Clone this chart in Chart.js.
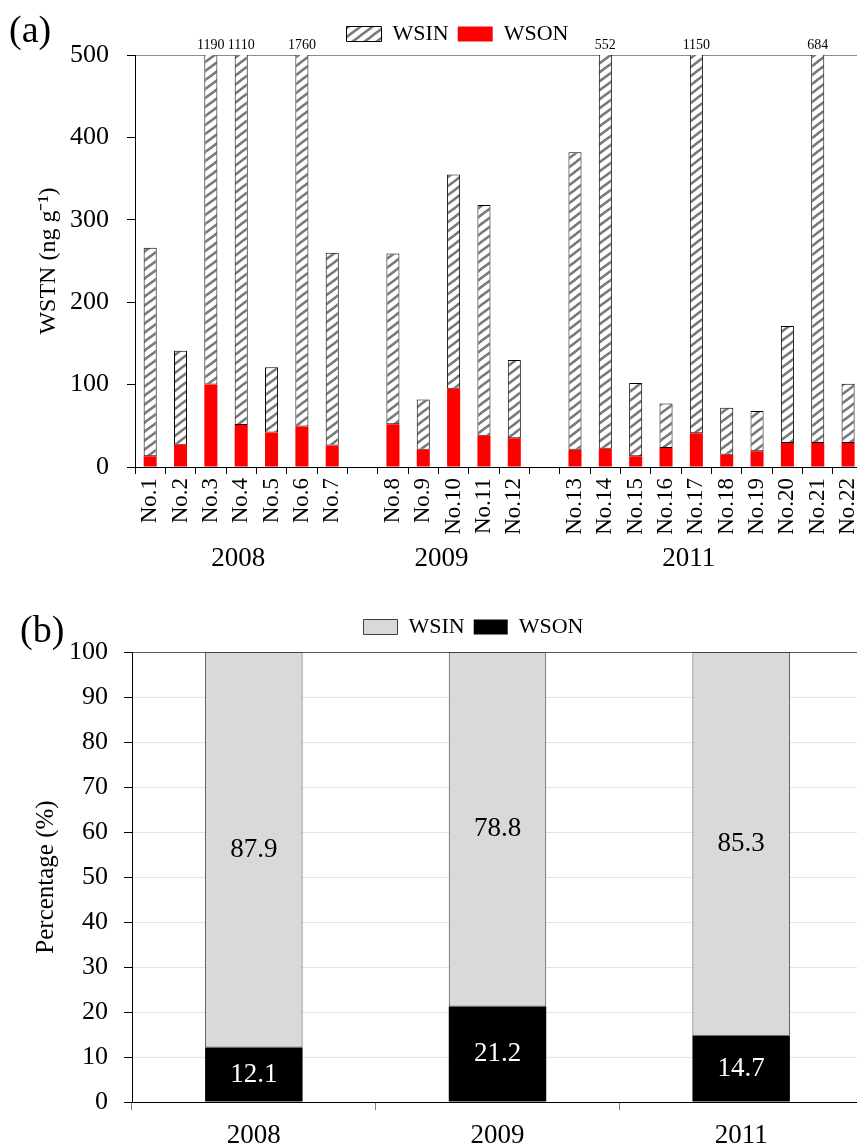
<!DOCTYPE html>
<html>
<head>
<meta charset="utf-8">
<script src="https://cdn.jsdelivr.net/npm/chart.js@4/dist/chart.umd.min.js"></script>
<style>
body { margin: 0; width: 857px; height: 1147px; overflow: hidden; background: #fff; position: relative; }
#chartA { position: absolute; left: 0; top: 0; }
#chartB { position: absolute; left: 0; top: 585px; }
</style>
</head>
<body>
<canvas id="chartA" width="880" height="590"></canvas>
<canvas id="chartB" width="880" height="575"></canvas>
<script>
// (a) samples, grouped by year; '' = gap between years
const sampleLabels = ['No.1', 'No.2', 'No.3', 'No.4', 'No.5', 'No.6', 'No.7', '',
	'No.8', 'No.9', 'No.10', 'No.11', 'No.12', '',
	'No.13', 'No.14', 'No.15', 'No.16', 'No.17', 'No.18', 'No.19', 'No.20', 'No.21', 'No.22']
const wsonValues = [13, 27, 100, 51, 42, 49, 26, null, 52, 21, 95, 38, 35, null,
	21, 22, 13, 23, 41, 15, 19, 29, 29, 29]
const wsinValues = [253, 114, 1090, 1059, 79, 1711, 234, null, 207, 61, 260, 280, 95, null,
	361, 530, 89, 54, 1109, 57, 49, 142, 655, 72]
const yearNames = ['2008', '2009', '2011']
const yMaxA = 500

// (b) share of each fraction per year (%)
const pctYears = ['2008', '2009', '2011']
const pctWson = [12.1, 21.2, 14.7]
const pctWsin = [87.9, 78.8, 85.3]

// where the year captions sit under panel (a), in category units
const yearAt = [2.9, 9.6, 17.75]

const serif = '"Liberation Serif", "Times New Roman", serif'
Chart.defaults.font.family = serif
Chart.defaults.color = '#000'

function makeHatch() { //diagonal grey stripes like the excel fill
	const c = document.createElement('canvas')
	c.width = 12; c.height = 9
	const g = c.getContext('2d')
	g.fillStyle = '#fff'
	g.fillRect(0, 0, 12, 9)
	g.strokeStyle = '#7a7a7a'
	g.lineWidth = 2.6
	g.beginPath()
	g.moveTo(-3, 11); g.lineTo(15, -2)
	g.moveTo(-3, 2); g.lineTo(3, -2)
	g.moveTo(9, 11); g.lineTo(15, 7)
	g.stroke()
	return g.createPattern(c, 'repeat')
}
const hatch = makeHatch()

// move the legend box and reserve room under it
const legendPlace = {
	id: 'legendPlace',
	beforeInit(chart, args, opts) {
		const lg = chart.legend
		const fit = lg.fit
		lg.fit = function () {
			fit.call(lg)
			lg.height = opts.height
		}
	},
	afterLayout(chart, args, opts) {
		const lg = chart.legend
		lg.left += opts.dx; lg.right += opts.dx
		lg.top += opts.dy; lg.bottom += opts.dy
	}
}

// panel letter in the corner
const panelTag = {
	id: 'panelTag',
	afterDraw(chart, args, opts) {
		const ctx = chart.ctx
		ctx.save()
		ctx.font = `38px ${serif}`
		ctx.fillStyle = '#000'
		ctx.textBaseline = 'alphabetic'
		ctx.fillText(opts.text, opts.x, opts.y)
		ctx.restore()
	}
}

// totals of bars cut at the top + year captions
const overflowLabels = {
	id: 'overflowLabels',
	afterDatasetsDraw(chart) {
		const ctx = chart.ctx
		const top = chart.chartArea.top
		const meta = chart.getDatasetMeta(1)
		ctx.save()
		ctx.font = `14px ${serif}`
		ctx.fillStyle = '#000'
		ctx.textAlign = 'center'
		ctx.textBaseline = 'bottom'
		meta.data.forEach((bar, i) => {
			const total = (wsonValues[i] || 0) + (wsinValues[i] || 0)
			if (total > yMaxA) ctx.fillText(String(total), bar.x, top - 3)
		})
		const xs = chart.scales.x
		ctx.font = `27px ${serif}`
		ctx.textBaseline = 'middle'
		yearNames.forEach((y, i) => ctx.fillText(y, xs.getPixelForValue(yearAt[i]), 559))
		ctx.restore()
	}
}

// percentages in the middle of each segment
const segmentLabels = {
	id: 'segmentLabels',
	afterDatasetsDraw(chart) {
		const ctx = chart.ctx
		ctx.save()
		ctx.font = `27px ${serif}`
		ctx.textAlign = 'center'
		ctx.textBaseline = 'middle'
		chart.data.datasets.forEach((ds, d) => {
			ctx.fillStyle = d === 0 ? '#fff' : '#000'
			chart.getDatasetMeta(d).data.forEach((bar, i) => {
				ctx.fillText(ds.data[i].toFixed(1), bar.x, (bar.y + bar.base) / 2)
			})
		})
		ctx.restore()
	}
}

new Chart(document.getElementById('chartA'), {
	type: 'bar',
	data: {
		labels: sampleLabels,
		datasets: [
			{ label: 'WSON', data: wsonValues, backgroundColor: '#ff0000', borderWidth: 0 },
			{ label: 'WSIN', data: wsinValues, backgroundColor: hatch, borderColor: '#000', borderWidth: 1, borderSkipped: false }
		]
	},
	options: {
		responsive: false,
		animation: false,
		layout: { padding: { left: 0, right: 15, top: 0, bottom: 0 } },
		datasets: { bar: { barPercentage: 0.43, categoryPercentage: 1 } },
		scales: {
			x: {
				stacked: true,
				border: { color: '#000', width: 1 },
				grid: { drawOnChartArea: false, tickLength: 7, tickColor: '#000' },
				ticks: { autoSkip: false, minRotation: 90, maxRotation: 90, padding: 4, font: { size: 23 } },
				afterFit(scale) { scale.height = 590 - 467 }
			},
			y: {
				stacked: true,
				min: 0, max: yMaxA,
				border: { color: '#000', width: 1 },
				grid: { color: c => c.tick.value === yMaxA ? '#8c8c8c' : 'transparent', tickLength: 8, tickColor: '#000' },
				ticks: { stepSize: 100, padding: 18, font: { size: 26 } },
				title: { display: true, text: 'WSTN (ng g⁻¹)', font: { size: 24 }, padding: { top: 34, bottom: 0 } },
				afterFit(scale) { scale.width = 135 }
			}
		},
		plugins: {
			legend: {
				reverse: true,
				labels: { boxWidth: 35, boxHeight: 15, padding: 9, font: { size: 22 } }
			},
			tooltip: { enabled: false },
			legendPlace: { height: 55, dx: 25, dy: 14 },
			panelTag: { text: '(a)', x: 9, y: 42 }
		}
	},
	plugins: [legendPlace, panelTag, overflowLabels]
})

new Chart(document.getElementById('chartB'), {
	type: 'bar',
	data: {
		labels: pctYears,
		datasets: [
			{ label: 'WSON', data: pctWson, backgroundColor: '#000', borderWidth: 0 },
			{ label: 'WSIN', data: pctWsin, backgroundColor: '#d9d9d9', borderColor: '#404040', borderWidth: 1, borderSkipped: false }
		]
	},
	options: {
		responsive: false,
		animation: false,
		layout: { padding: { left: 0, right: 17, top: 0, bottom: 0 } },
		datasets: { bar: { barPercentage: 0.4, categoryPercentage: 1 } },
		scales: {
			x: {
				stacked: true,
				border: { color: '#000', width: 1 },
				grid: { drawOnChartArea: false, tickLength: 8, tickColor: '#808080' },
				ticks: { padding: 10, font: { size: 27 } },
				afterFit(scale) { scale.height = 575 - 517 }
			},
			y: {
				stacked: true,
				min: 0, max: 100,
				border: { color: '#000', width: 1 },
				grid: {
					color: c => c.tick.value === 100 ? '#595959' : (c.tick.value === 0 ? 'transparent' : '#e3e3e3'),
					tickLength: 8, tickColor: '#000'
				},
				ticks: { stepSize: 10, padding: 16, font: { size: 26 } },
				title: { display: true, text: 'Percentage (%)', font: { size: 25 }, padding: { top: 31, bottom: 0 } },
				afterFit(scale) { scale.width = 132 }
			}
		},
		plugins: {
			legend: {
				reverse: true,
				labels: { boxWidth: 34, boxHeight: 15, padding: 9, font: { size: 22 } }
			},
			tooltip: { enabled: false },
			legendPlace: { height: 67, dx: 42, dy: 22 },
			panelTag: { text: '(b)', x: 20, y: 57 }
		}
	},
	plugins: [legendPlace, panelTag, segmentLabels]
})
</script>
</body>
</html>
